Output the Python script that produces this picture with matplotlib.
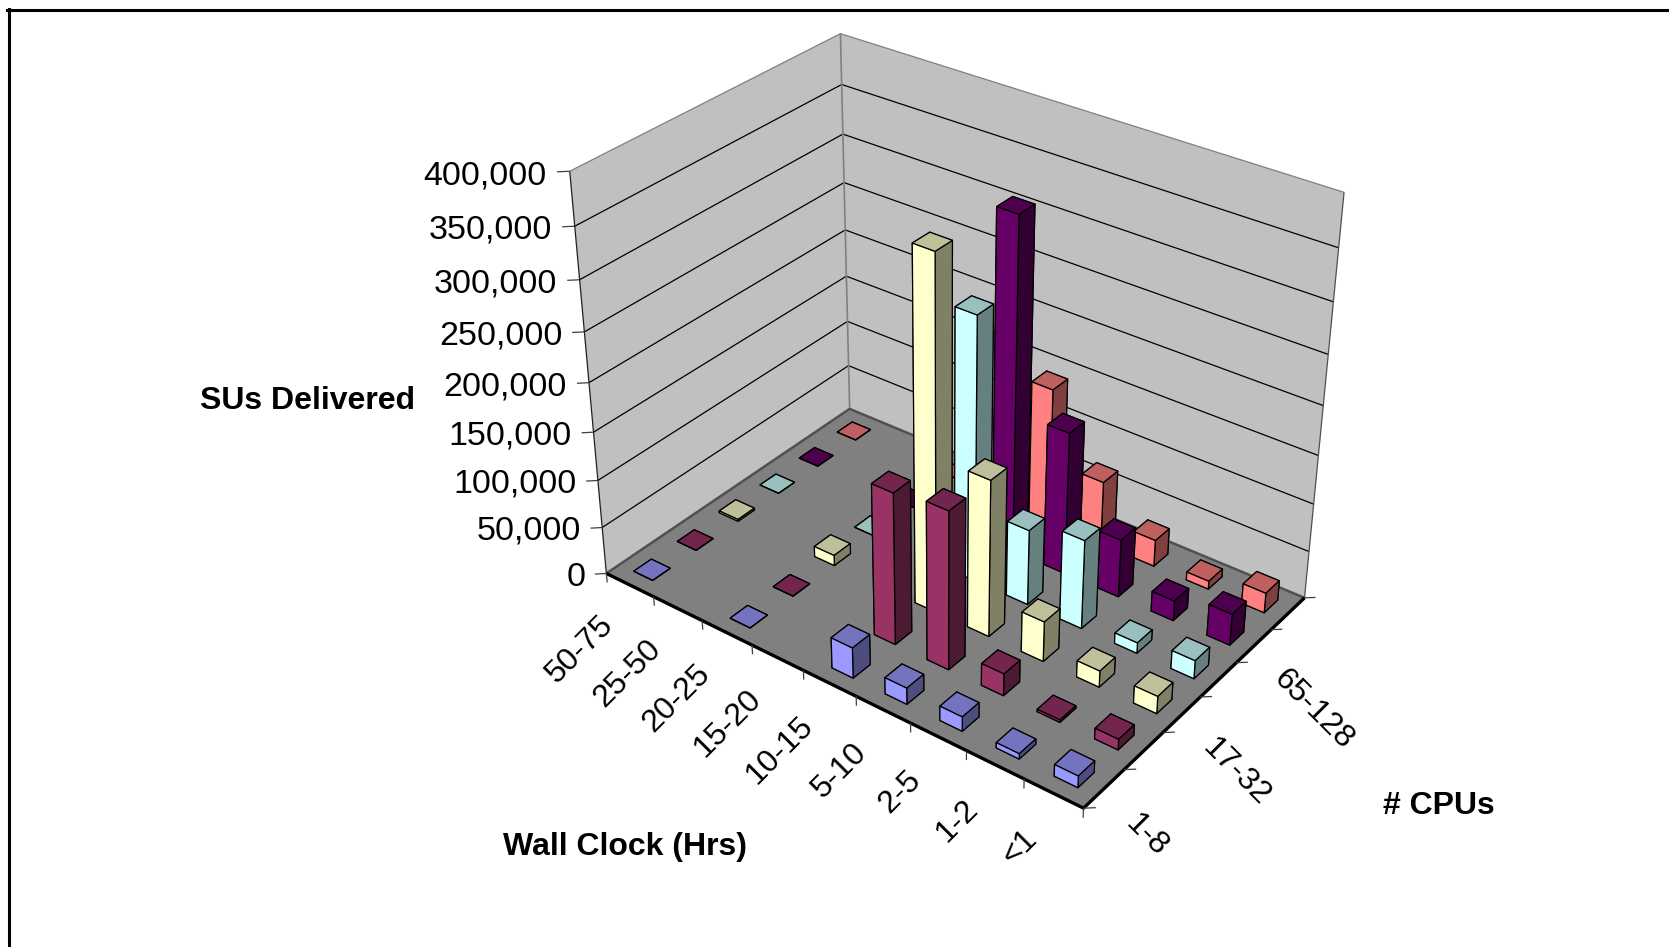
import numpy as np
import matplotlib
matplotlib.use("Agg")
import matplotlib.pyplot as plt
from matplotlib.lines import Line2D
from matplotlib.colors import to_rgb
from mpl_toolkits.mplot3d import proj3d
from mpl_toolkits.mplot3d.art3d import Poly3DCollection

W, H = 1669, 947
nan = float("nan")

wall_clock = ["50-75", "25-50", "20-25", "15-20", "10-15", "5-10", "2-5", "1-2", "<1"]
cpu_labels = ["1-8", "", "17-32", "", "65-128", ""]
z_ticks = [0, 50000, 100000, 150000, 200000, 250000, 300000, 350000, 400000]

# SUs per wall clock bin, one list per CPU range
su_cpu_1 = [0, nan, 0, nan, 32000, 17000, 15000, 5500, 12000]
su_cpu_2 = [0, nan, 0, nan, 157000, 163000, 23000, 2500, 11000]
su_cpu_3 = [2000, nan, 11000, nan, 358000, 162000, 42000, 17000, 18000]
su_cpu_4 = [0, nan, 0, nan, 273000, 79000, 93000, 11000, 19000]
su_cpu_5 = [0, nan, 0, nan, 343000, 149000, 61000, 21000, 33000]
su_cpu_6 = [0, nan, 0, nan, 143000, 67000, 28000, 8500, 21000]
rows = [su_cpu_1, su_cpu_2, su_cpu_3, su_cpu_4, su_cpu_5, su_cpu_6]
row_colors = ["#9999FF", "#993366", "#FFFFCC", "#CCFFFF", "#660066", "#FF8080"]

plt.rcParams["font.family"] = ["Liberation Sans", "DejaVu Sans"]

fig = plt.figure(figsize=(W / 100, H / 100), dpi=100, facecolor="white")
S = 900
cx, cy = 941.39, 406.23
ax = fig.add_axes([(cx - S / 2) / W, (H - cy - S / 2) / H, S / W, S / H],
                  projection="3d", computed_zorder=False)
ax.set_axis_off()
ax.view_init(elev=31.98, azim=-53.11, roll=-0.13)
ax.set_proj_type("persp", focal_length=0.4998)
ax.set_box_aspect((1.2876, 0.8606, 1), zoom=0.9442)

nx, ny = len(wall_clock), len(rows)
zmax = z_ticks[-1]
ax.set_xlim(0, nx)
ax.set_ylim(0, ny)
ax.set_zlim(0, zmax)


def quad(pts, face, zorder):
    ax.add_collection3d(Poly3DCollection([pts], facecolor=face, edgecolor="none", zorder=zorder),
                        autolim=False)


def line(xs, ys, zs, color="black", lw=0.9, zorder=3):
    ax.plot(xs, ys, zs, color=color, lw=lw, zorder=zorder, solid_capstyle="butt")


def label(x, y, z, s, **kw):
    # rotated text stays 2D, placed at the projected position of a 3D point
    px, py, _ = proj3d.proj_transform(x, y, z, ax.get_proj())
    ax.text2D(px, py, s, transform=ax.transData, color="black", zorder=500, **kw)


# walls and floor
quad([(0, 0, 0), (0, ny, 0), (0, ny, zmax), (0, 0, zmax)], "#C0C0C0", 1)
quad([(0, ny, 0), (nx, ny, 0), (nx, ny, zmax), (0, ny, zmax)], "#C0C0C0", 1)
quad([(0, 0, 0), (nx, 0, 0), (nx, ny, 0), (0, ny, 0)], "#808080", 1)

# horizontal gridlines run over both walls
for z in z_ticks[1:-1]:
    line([0, 0, nx], [0, ny, ny], [z, z, z], zorder=2)
line([0, 0, nx], [0, ny, ny], [zmax, zmax, zmax], color="#808080", zorder=2)
line([0, 0], [ny, ny], [0, zmax], color="#808080", lw=1.2, zorder=2)
line([0, 0], [0, 0], [0, zmax], color="#202020", zorder=2)
line([nx, nx], [ny, ny], [0, zmax], color="#505050", zorder=2)
line([0, 0, nx], [0, ny, ny], [0, 0, 0], color="#505050", lw=1.8, zorder=2)

# floor edges and tick marks
line([0, nx, nx], [0, 0, ny], [0, 0, 0], lw=2.4, zorder=3)
for i in range(nx + 1):
    line([i, i], [0, 0], [0, -10000], color="#404040", zorder=3)
for j in range(ny + 1):
    line([nx, nx + 0.13], [j, j + 0.11], [0, 0], color="#404040", zorder=3)
for z in z_ticks:
    line([0, -0.13], [0, -0.12], [z, z], color="#404040", zorder=3)

# tick labels
for z in z_ticks:
    label(-0.24, -0.22, z - 3000, f"{z:,}", fontsize=24.5, ha="right", va="center")
for i, lab in enumerate(wall_clock):
    label(i + 0.5, -0.5, -22000, lab, fontsize=23, rotation=45, rotation_mode="anchor",
          ha="right", va="center")
for j, lab in enumerate(cpu_labels):
    if lab:
        label(nx + 0.45, j + 0.5, -18000, lab, fontsize=23, rotation=-45, rotation_mode="anchor",
              ha="left", va="center")


def shade(color, k):
    return tuple(c * k for c in to_rgb(color))


# bars are painted back to front so tall ones overlap correctly
bw = 0.4
order = 10
for j in reversed(range(ny)):
    base = row_colors[j]
    top, side = shade(base, 0.75), shade(base, 0.5)
    faces = [top, top, base, base, side, side]
    for i in range(nx):
        val = rows[j][i]
        if np.isnan(val):
            continue
        ax.bar3d(i + 0.5 - bw / 2, j + 0.5 - bw / 2, 0, bw, bw, val, color=faces, shade=False,
                 edgecolor="black", linewidth=0.9, zorder=order)
        order += 1

ax.set_xlim(0, nx)
ax.set_ylim(0, ny)
ax.set_zlim(0, zmax)

# axis titles
fig.text(200 / W, 1 - 401 / H, "SUs Delivered", fontsize=23, fontweight="bold", ha="left", va="center")
fig.text(503 / W, 1 - 847 / H, "Wall Clock (Hrs)", fontsize=23, fontweight="bold", ha="left", va="center")
fig.text(1383 / W, 1 - 806 / H, "# CPUs", fontsize=23, fontweight="bold", ha="left", va="center")

# chart frame, open on the right and bottom
fig.add_artist(Line2D([8.5 / W, 8.5 / W], [0, 1 - 9 / H], color="black", lw=2.2))
fig.add_artist(Line2D([7 / W, 1], [1 - 10.5 / H, 1 - 10.5 / H], color="black", lw=2.2))

fig.savefig("out.png", dpi=100)
